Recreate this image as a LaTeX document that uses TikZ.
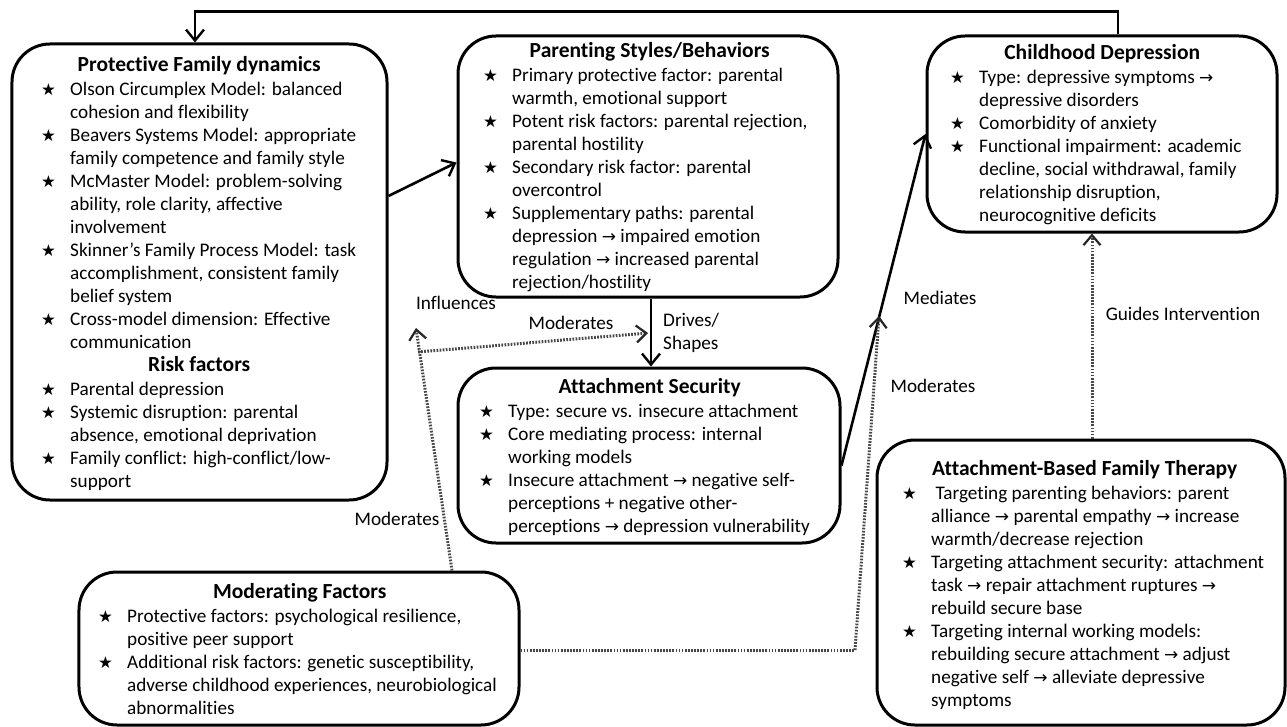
\documentclass[tikz,border=0pt]{standalone}
\usepackage{fontspec}
\setmainfont{Carlito}[RawFeature={-liga}]
\newfontfamily\dv{DejaVu Sans}
\usetikzlibrary{arrows.meta,calc}
\newcommand\st{{\dv\fontsize{16.5bp}{16bp}\selectfont ★}}
\newcommand\ra{{\dv\fontsize{17bp}{16bp}\selectfont →}}
\newcommand\hd[2]{\multicolumn{2}{@{}l@{}}{\makebox[#1][c]{\fontsize{21.5bp}{23bp}\selectfont\bfseries #2}}}
\newenvironment{blist}{\begin{tabular}{@{}p{29bp}@{}l@{}}}{\end{tabular}}
\tikzset{
  box/.style={draw, line width=3bp, rounded corners=38bp, inner sep=0pt},
  content/.style={anchor=north west, inner sep=0pt, align=left, font=\fontsize{19.2bp}{23bp}\selectfont},
  conn/.style={line width=2.6bp, -{Straight Barb[length=11bp,width=18bp,line width=2.4bp]}},
  dotconn/.style={draw=black!72, line width=3bp, dash pattern=on 1.7bp off 1.4bp,
     -{Straight Barb[length=10bp,width=17bp,line width=2.2bp,color=black!85]}},
  dotline/.style={draw=black!72, line width=3bp, dash pattern=on 1.7bp off 1.4bp},
  lbl/.style={inner sep=0pt, font=\fontsize{19.2bp}{23bp}\selectfont, align=left},
}
\begin{document}
\begin{tikzpicture}[x=1bp,y=-1bp]
\useasboundingbox (0,0) rectangle (1287,727);
% boxes
\node[box, minimum width=375bp, minimum height=456bp] (pfd) at (199.5,272) {};
\node[box, minimum width=380bp, minimum height=261bp] (psb) at (648,166.5) {};
\node[box, minimum width=350bp, minimum height=196bp] (cd) at (1102,134) {};
\node[box, minimum width=382bp, minimum height=175bp] (as) at (649,455.5) {};
\node[box, minimum width=408bp, minimum height=285bp] (abft) at (1081,582.5) {};
\node[box, minimum width=440bp, minimum height=153bp] (mf) at (299,648.5) {};
% contents
\node[content] (pfdt) at (41,55) {\begin{blist}
\hd{316bp}{Protective Family dynamics}\\[1bp]
\st & Olson Circumplex Model: balanced\\
 & cohesion and flexibility\\
\st & Beavers Systems Model: appropriate\\
 & family competence and family style\\
\st & McMaster Model: problem-solving\\
 & ability, role clarity, affective\\
 & involvement\\
\st & Skinner's Family Process Model: task\\
 & accomplishment, consistent family\\
 & belief system\\
\st & Cross-model dimension: Effective\\
 & communication\\
\hd{316bp}{Risk factors}\\[1bp]
\st & Parental depression\\
\st & Systemic disruption: parental\\
 & absence, emotional deprivation\\
\st & Family conflict: high-conflict/low-\\
 & support
\end{blist}};
\node[content] (psbt) at (483,41) {\begin{blist}
\hd{333bp}{Parenting Styles/Behaviors}\\[1bp]
\st & Primary protective factor: parental\\
 & warmth, emotional support\\
\st & Potent risk factors: parental rejection,\\
 & parental hostility\\
\st & Secondary risk factor: parental\\
 & overcontrol\\
\st & Supplementary paths: parental\\
 & depression \ra{} impaired emotion\\
 & regulation \ra{} increased parental\\
 & rejection/hostility
\end{blist}};
\node[content] (cdt) at (950,43) {\begin{blist}
\hd{304bp}{Childhood Depression}\\[1bp]
\st & Type: depressive symptoms \ra\\
 & depressive disorders\\
\st & Comorbidity of anxiety\\
\st & Functional impairment: academic\\
 & decline, social withdrawal, family\\
 & relationship disruption,\\
 & neurocognitive deficits
\end{blist}};
\node[content] (ast) at (479,377) {\begin{blist}
\hd{341bp}{Attachment Security}\\[1bp]
\st & Type: secure vs. insecure attachment\\
\st & Core mediating process: internal\\
 & working models\\
\st & Insecure attachment \ra{} negative self-\\
 & perceptions + negative other-\\
 & perceptions \ra{} depression vulnerability
\end{blist}};
\node[content] (abftt) at (902,459) {\begin{blist}
\hd{365bp}{Attachment-Based Family Therapy}\\[1bp]
\st & \ Targeting parenting behaviors: parent\\
 & alliance \ra{} parental empathy \ra{} increase\\
 & warmth/decrease rejection\\
\st & Targeting attachment security: attachment\\
 & task \ra{} repair attachment ruptures \ra\\
 & rebuild secure base\\
\st & Targeting internal working models:\\
 & rebuilding secure attachment \ra{} adjust\\
 & negative self \ra{} alleviate depressive\\
 & symptoms
\end{blist}};
\node[content] (mft) at (98,582) {\begin{blist}
\hd{403bp}{Moderating Factors}\\[1bp]
\st & Protective factors: psychological resilience,\\
 & positive peer support\\
\st & Additional risk factors: genetic susceptibility,\\
 & adverse childhood experiences, neurobiological\\
 & abnormalities
\end{blist}};
% solid connectors
\draw[conn] ([xshift=16bp]cd.north) -- ++(0,-23) -| ([xshift=-4.5bp]pfd.north);
\draw[conn] ([yshift=76bp]pfd.east) -- ([yshift=4bp]psb.west);
\draw[conn] ([xshift=3bp]psb.south) -- ([xshift=3bp]psb.south |- as.north);
\draw[conn] ([yshift=-10bp]as.east) -- (cd.west);
% dotted connectors
\coordinate (gi) at (1092,0);
\draw[dotconn] (abft.north -| gi) -- (cd.south -| gi);
\coordinate (mtip) at (416,328);
\coordinate (mjoin) at (418,352);
\coordinate (dtip) at (648,333);
\draw[dotconn] ([xshift=153bp]mf.north) -- (mtip);
\draw[dotconn] (mjoin) -- (dtip);
\coordinate (mcorner) at (855,650);
\coordinate (medtip) at (879,316);
\draw[dotline] (mf.east |- mcorner) -- (mcorner);
\draw[dotconn] (mcorner) -- (medtip);
% labels
\node[lbl] (l1) at (456,303) {Influences};
\node[lbl, anchor=west] (l2) at (663,333) {Drives/\\Shapes};
\node[lbl] (l3) at (940,298) {Mediates};
\node[lbl] (l4) at (1183,314) {Guides Intervention};
\node[lbl] (l5) at (571,323) {Moderates};
\node[lbl] (l6) at (397,519) {Moderates};
\node[lbl] (l7) at (933,386) {Moderates};
\end{tikzpicture}
\end{document}
